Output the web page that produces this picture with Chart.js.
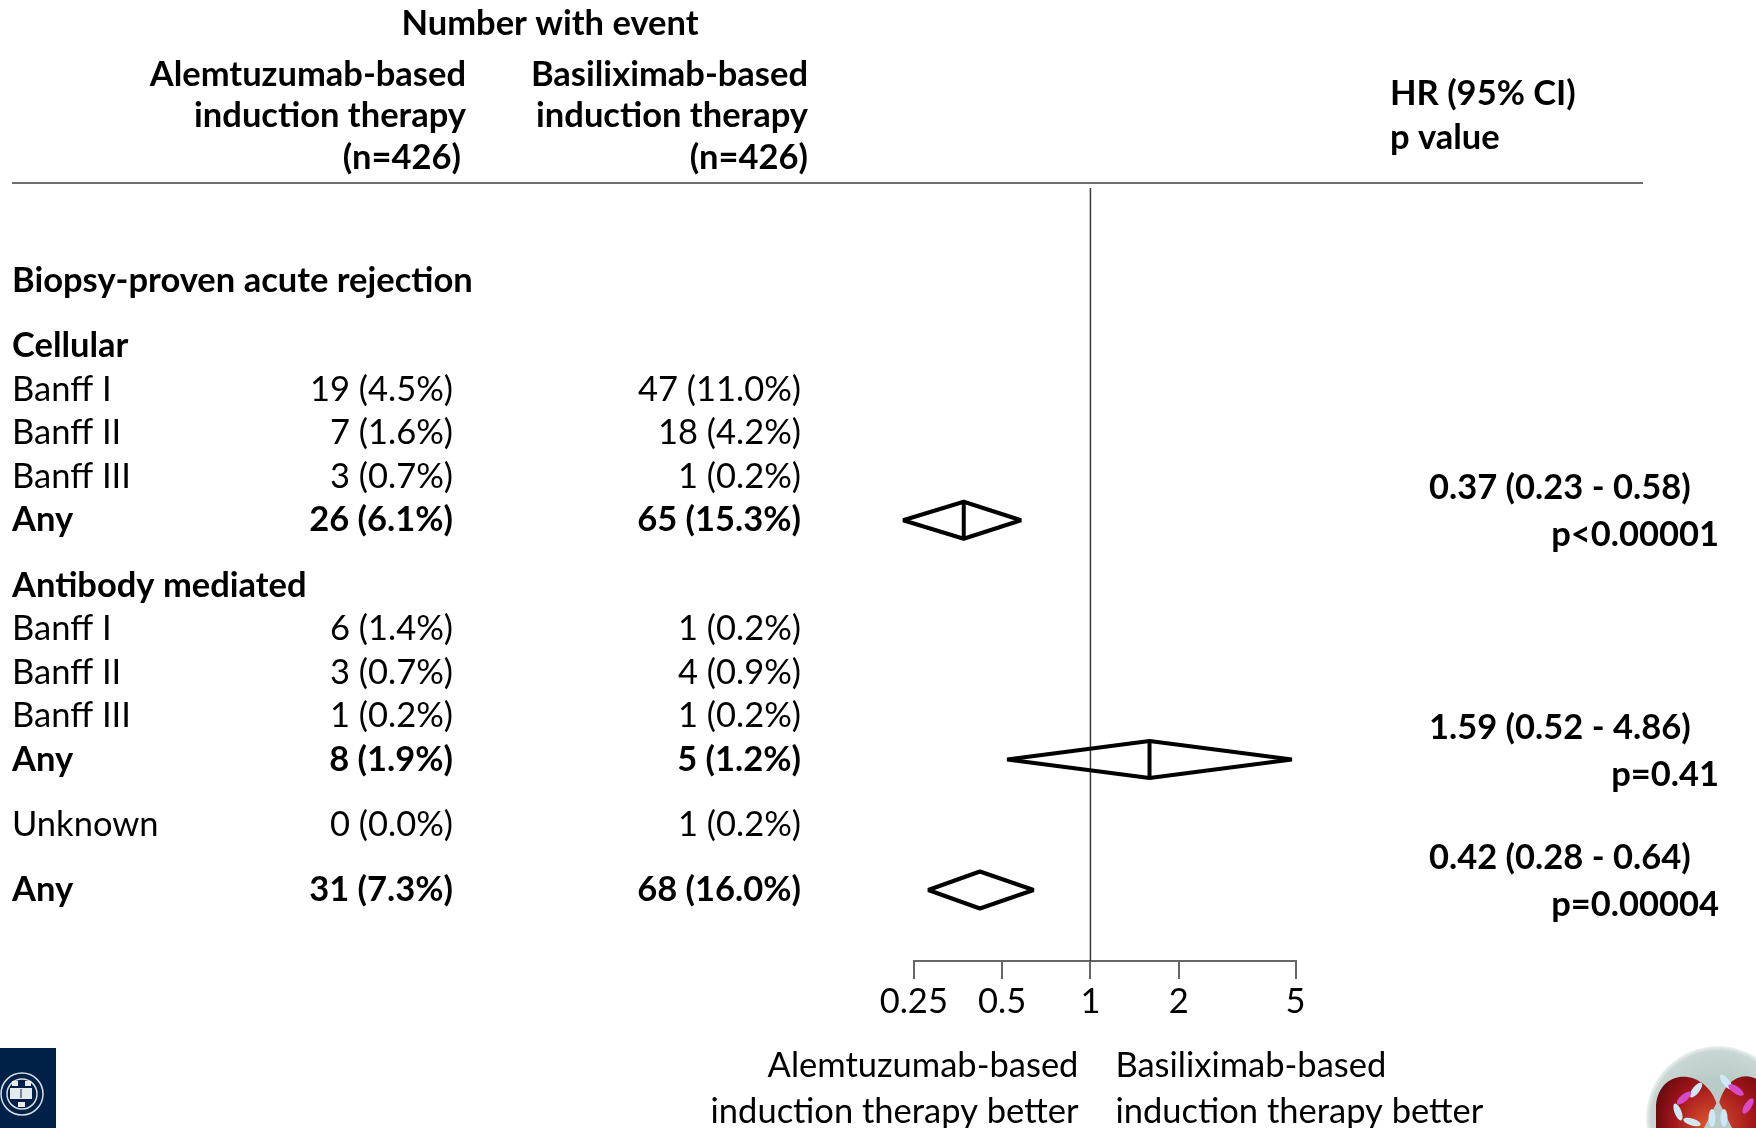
<!DOCTYPE html>
<html>
<head>
<meta charset="utf-8">
<title>Biopsy-proven acute rejection by induction therapy</title>
<script src="https://cdn.jsdelivr.net/npm/chart.js@4.4.1/dist/chart.umd.min.js"></script>
<style>
  html, body { margin: 0; padding: 0; background: #ffffff; }
  #wrap { position: relative; width: 1756px; height: 1128px; }
  canvas { display: block; }
</style>
</head>
<body>
<div id="wrap"><canvas id="forest" width="1756" height="1128"></canvas></div>
<script>
// ---- Table rows -------------------------------------------------------
const rowLabels = [
  'Biopsy-proven acute rejection',
  'Cellular', 'Banff I', 'Banff II', 'Banff III', 'Any',
  'Antibody mediated', 'Banff I', 'Banff II', 'Banff III', 'Any',
  'Unknown',
  'Any'
];
// title / section heading / item / subgroup total / overall total
const rowKinds = [
  'title',
  'section', 'item', 'item', 'item', 'total',
  'section', 'item', 'item', 'item', 'total',
  'item',
  'overall'
];

// Number with event, alemtuzumab-based induction (n=426)
const alemEvents  = [null, null, 19, 7, 3, 26, null, 6, 3, 1, 8, 0, 31];
const alemPercent = [null, null, 4.5, 1.6, 0.7, 6.1, null, 1.4, 0.7, 0.2, 1.9, 0.0, 7.3];
// Number with event, basiliximab-based induction (n=426)
const basiEvents  = [null, null, 47, 18, 1, 65, null, 1, 4, 1, 5, 1, 68];
const basiPercent = [null, null, 11.0, 4.2, 0.2, 15.3, null, 0.2, 0.9, 0.2, 1.2, 0.2, 16.0];

// Hazard ratios (95% CI) and p values, given on the "Any" rows
const hazardRatio = [null, null, null, null, null, 0.37, null, null, null, null, 1.59, null, 0.42];
const ciLower     = [null, null, null, null, null, 0.23, null, null, null, null, 0.52, null, 0.28];
const ciUpper     = [null, null, null, null, null, 0.58, null, null, null, null, 4.86, null, 0.64];
const pValues     = [null, null, null, null, null, 'p<0.00001', null, null, null, null, 'p=0.41', null, 'p=0.00004'];

// HR axis
const hrTicks      = [0.25, 0.5, 1, 2, 5];
const hrTickLabels = ['0.25', '0.5', '1', '2', '5'];

const groupNames = ['Alemtuzumab-based', 'Basiliximab-based'];
const groupSizes = [426, 426];

// ---- Layout -------------------------------------------------------------
const W = 1756, H = 1128;
const FAMILY = 'Lato, "Open Sans", "Noto Sans", sans-serif';
const FS = 34.5;
const PLOT = { left: 913.8, right: 1295.5, top: 188, bottom: 961 };
const ROW_STEP = 43.5;      // pixels per row slot
const ROW_ORIGIN = 281;     // pixel centre of slot 0
const DIAMOND_HALF = 18.5;

// row slot of every table line: headings and totals get a wider gap
const rowSlots = [];
rowKinds.forEach((k, i) => {
  if (i === 0) { rowSlots.push(0); return; }
  const wide = k === 'section' || k === 'overall' || rowKinds[i - 1] === 'total';
  rowSlots.push(rowSlots[i - 1] + (wide ? 1.5 : 1));
});

const fmtCount = (n, p) => n + ' (' + p.toFixed(1) + '%)';
const fmtHR = (h, l, u) => h.toFixed(2) + ' (' + l.toFixed(2) + ' - ' + u.toFixed(2) + ')';

function put(ctx, str, x, y, align, bold) {
  ctx.font = (bold ? 'bold ' : '') + FS + 'px ' + FAMILY;
  ctx.textAlign = align;
  ctx.textBaseline = 'middle';
  ctx.fillStyle = '#000000';
  ctx.fillText(str, x, y);
}

// Reference line at HR = 1 and the HR diamonds
const forestPlugin = {
  id: 'forestMarks',
  beforeDatasetsDraw(chart) {
    const { ctx, scales: { x } } = chart;
    const x1 = x.getPixelForValue(1);
    ctx.save();
    ctx.strokeStyle = '#3a3a3a';
    ctx.lineWidth = 1.5;
    ctx.beginPath();
    ctx.moveTo(x1, chart.chartArea.top);
    ctx.lineTo(x1, chart.chartArea.bottom);
    ctx.stroke();
    ctx.restore();
  },
  afterDatasetsDraw(chart) {
    const { ctx, scales: { x, y } } = chart;
    ctx.save();
    ctx.strokeStyle = '#000000';
    ctx.lineWidth = 4;
    ctx.lineJoin = 'bevel';
    ctx.lineCap = 'butt';
    hazardRatio.forEach((hr, i) => {
      if (hr == null) return;
      const xl = x.getPixelForValue(ciLower[i]);
      const xm = x.getPixelForValue(hr);
      const xu = x.getPixelForValue(ciUpper[i]);
      const yc = y.getPixelForValue(rowSlots[i]);
      ctx.beginPath();
      ctx.moveTo(xl, yc);
      ctx.lineTo(xm, yc - DIAMOND_HALF);
      ctx.lineTo(xu, yc);
      ctx.lineTo(xm, yc + DIAMOND_HALF);
      ctx.closePath();
      ctx.stroke();
      if (rowKinds[i] !== 'overall') {
        ctx.beginPath();
        ctx.moveTo(xm, yc - DIAMOND_HALF);
        ctx.lineTo(xm, yc + DIAMOND_HALF);
        ctx.stroke();
      }
    });
    ctx.restore();
  }
};

// Column headings, table text, HR text and axis captions
const tablePlugin = {
  id: 'tableText',
  afterDraw(chart) {
    const { ctx, scales: { x, y } } = chart;
    ctx.save();

    put(ctx, 'Number with event', 550, 24, 'center', true);
    const colRight = [466, 808];
    groupNames.forEach((g, k) => {
      put(ctx, g, colRight[k], 75, 'right', true);
      put(ctx, 'induction therapy', colRight[k], 116, 'right', true);
      put(ctx, '(n=' + groupSizes[k] + ')', colRight[k] - (k === 0 ? 5 : 0), 158, 'right', true);
    });
    put(ctx, 'HR (95% CI)', 1390, 94, 'left', true);
    put(ctx, 'p value', 1390, 138, 'left', true);

    ctx.strokeStyle = '#6e6e6e';
    ctx.lineWidth = 2;
    ctx.beginPath();
    ctx.moveTo(12, 183);
    ctx.lineTo(1643, 183);
    ctx.stroke();

    rowLabels.forEach((lab, i) => {
      const yc = y.getPixelForValue(rowSlots[i]);
      const kind = rowKinds[i];
      const bold = kind !== 'item';
      put(ctx, lab, 12, yc, 'left', bold);
      if (alemEvents[i] != null) {
        put(ctx, fmtCount(alemEvents[i], alemPercent[i]), 453, yc, 'right', bold);
        put(ctx, fmtCount(basiEvents[i], basiPercent[i]), 801, yc, 'right', bold);
      }
      if (hazardRatio[i] != null) {
        put(ctx, fmtHR(hazardRatio[i], ciLower[i], ciUpper[i]), 1429, yc - 32, 'left', true);
        put(ctx, pValues[i], 1719, yc + 15, 'right', true);
      }
    });

    const x1 = x.getPixelForValue(1);
    put(ctx, 'Alemtuzumab-based', x1 - 12, 1066, 'right', false);
    put(ctx, 'induction therapy better', x1 - 12, 1112, 'right', false);
    put(ctx, 'Basiliximab-based', x1 + 25, 1066, 'left', false);
    put(ctx, 'induction therapy better', x1 + 25, 1112, 'left', false);

    drawLogos(ctx);
    ctx.restore();
  }
};

function drawLogos(ctx) {
  // university crest, bottom left
  ctx.fillStyle = '#002147';
  ctx.fillRect(0, 1048, 56, 80);
  ctx.strokeStyle = 'rgba(255,255,255,0.85)';
  ctx.lineWidth = 1.5;
  ctx.beginPath();
  ctx.arc(22, 1094, 21, 0, Math.PI * 2);
  ctx.stroke();
  ctx.beginPath();
  ctx.arc(22, 1094, 15, 0, Math.PI * 2);
  ctx.stroke();
  ctx.fillStyle = 'rgba(255,255,255,0.9)';
  ctx.fillRect(10, 1088, 22, 11);
  ctx.fillStyle = '#002147';
  ctx.fillRect(20.5, 1089, 1, 9);
  ctx.fillStyle = 'rgba(255,255,255,0.9)';
  ctx.fillRect(12, 1081, 6, 5);
  ctx.fillRect(25, 1081, 6, 5);
  ctx.fillRect(18, 1102, 7, 5);

  // society emblem, bottom right
  const cx = 1718, cy = 1118;
  let g = ctx.createRadialGradient(cx, cy, 40, cx, cy, 72);
  g.addColorStop(0, '#b9cbc8');
  g.addColorStop(0.85, '#c9d7d4');
  g.addColorStop(1, '#eef2f1');
  ctx.fillStyle = g;
  ctx.beginPath();
  ctx.arc(cx, cy, 72, 0, Math.PI * 2);
  ctx.fill();
  g = ctx.createRadialGradient(cx - 10, cy + 10, 5, cx, cy, 62);
  g.addColorStop(0, '#d8502e');
  g.addColorStop(0.6, '#a3161b');
  g.addColorStop(1, '#6e0b10');
  ctx.fillStyle = g;
  ctx.beginPath();
  ctx.moveTo(cx, 1108);
  ctx.bezierCurveTo(cx - 10, 1068, cx - 58, 1066, cx - 62, 1105);
  ctx.lineTo(cx - 62, 1128);
  ctx.lineTo(cx + 40, 1128);
  ctx.lineTo(cx + 40, 1080);
  ctx.bezierCurveTo(cx + 25, 1070, cx + 5, 1080, cx, 1108);
  ctx.closePath();
  ctx.fill();
  ctx.fillStyle = '#b9cbc8';
  ctx.beginPath();
  ctx.moveTo(cx - 14, 1128);
  ctx.lineTo(cx, 1100);
  ctx.lineTo(cx + 14, 1128);
  ctx.closePath();
  ctx.fill();
  const blobs = [[-22, 1090, -0.9, '#cfe8f5'], [-34, 1098, -0.7, '#d84bc8'], [-40, 1112, 1.2, '#cfe8f5'], [8, 1082, 0.9, '#cfe8f5'], [18, 1090, 0.6, '#d84bc8'],
                 [-6, 1118, 1.57, '#cfe8f5'], [6, 1118, 1.57, '#cfe8f5'], [-26, 1122, 0.3, '#cfe8f5'], [30, 1106, -1.0, '#d84bc8']];
  blobs.forEach(([dx, by, rot, col]) => {
    ctx.fillStyle = col;
    ctx.beginPath();
    ctx.ellipse(cx + dx, by, 9, 3.5, rot, 0, Math.PI * 2);
    ctx.fill();
  });
}

// ---- Chart ----------------------------------------------------------------
const estimatePoints = hazardRatio
  .map((h, i) => (h == null ? null : { x: h, y: rowSlots[i] }))
  .filter(p => p);

new Chart(document.getElementById('forest'), {
  type: 'scatter',
  data: {
    datasets: [{
      data: estimatePoints,
      pointRadius: 0,
      pointHoverRadius: 0,
      showLine: false
    }]
  },
  options: {
    responsive: false,
    animation: false,
    events: [],
    layout: { padding: { left: PLOT.left, right: W - PLOT.right, top: PLOT.top, bottom: 0 } },
    scales: {
      x: {
        type: 'logarithmic',
        min: hrTicks[0],
        max: hrTicks[hrTicks.length - 1],
        afterBuildTicks: s => { s.ticks = hrTicks.map(v => ({ value: v })); },
        afterFit: s => { s.height = H - PLOT.bottom; },
        border: { display: true, color: '#666666', width: 2 },
        grid: { drawOnChartArea: false, drawTicks: true, tickLength: 18, color: '#666666', lineWidth: 2 },
        ticks: {
          autoSkip: false,
          maxRotation: 0,
          padding: 2,
          color: '#000000',
          font: { family: FAMILY, size: FS },
          callback: (v, i) => hrTickLabels[i]
        }
      },
      y: {
        type: 'linear',
        display: false,
        reverse: true,
        min: (PLOT.top - ROW_ORIGIN) / ROW_STEP,
        max: (PLOT.bottom - ROW_ORIGIN) / ROW_STEP
      }
    },
    plugins: {
      legend: { display: false },
      tooltip: { enabled: false },
      title: { display: false }
    }
  },
  plugins: [forestPlugin, tablePlugin]
});
</script>
</body>
</html>
